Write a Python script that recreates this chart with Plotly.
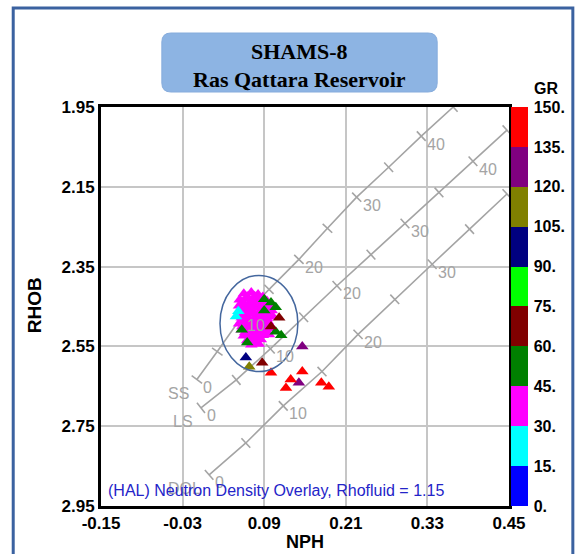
import plotly.graph_objects as go

# ---------------- data ----------------
# GR color classes (API)
GR_EDGES = [0, 15, 30, 45, 60, 75, 90, 105, 120, 135, 150]
GR_COLORS = ["#0000ff", "#00ffff", "#ff00ff", "#008000", "#800000",
             "#00ff00", "#000080", "#808000", "#800080", "#ff0000"]
GR_TICKTEXT = ["0.", "15.", "30.", "45.", "60.", "75.", "90.", "105.", "120.", "135.", "150."]

X_TICKS = [-0.15, -0.03, 0.09, 0.21, 0.33, 0.45]
X_TICKTEXT = ["-0.15", "-0.03", "0.09", "0.21", "0.33", "0.45"]
Y_TICKS = [1.95, 2.15, 2.35, 2.55, 2.75, 2.95]
Y_TICKTEXT = ["1.95", "2.15", "2.35", "2.55", "2.75", "2.95"]

# Lithology lines of the HAL neutron-density overlay (porosity in p.u.)
SS_PHI = [0, 5, 10, 15, 20, 25, 30, 35, 40, 45]
SS_NPH = [-0.009, 0.021, 0.056, 0.097, 0.141, 0.183, 0.226, 0.273, 0.321, 0.368]
SS_RHOB = [2.633, 2.563, 2.478, 2.407, 2.332, 2.254, 2.176, 2.101, 2.023, 1.950]

LS_PHI = [0, 5, 10, 15, 20, 25, 30, 35, 40, 45]
LS_NPH = [-0.003, 0.049, 0.099, 0.148, 0.197, 0.247, 0.297, 0.347, 0.397, 0.447]
LS_RHOB = [2.704, 2.634, 2.556, 2.477, 2.398, 2.320, 2.242, 2.164, 2.086, 2.008]

DOL_PHI = [0, 5, 10, 15, 20, 25, 30, 35, 40]
DOL_NPH = [0.009, 0.063, 0.118, 0.175, 0.228, 0.282, 0.337, 0.392, 0.447]
DOL_RHOB = [2.872, 2.792, 2.699, 2.613, 2.520, 2.432, 2.344, 2.256, 2.168]

SS_LABELED = [0, 10, 20, 30, 40]
LS_LABELED = [0, 10, 20, 30, 40]
DOL_LABELED = [0, 10, 20, 30]

# Log samples, grouped by GR class
MAG_NPH = [0.060, 0.071, 0.081,
           0.054, 0.065, 0.075, 0.085, 0.094,
           0.053, 0.062, 0.072, 0.082, 0.091, 0.099,
           0.054, 0.063, 0.074, 0.084, 0.093, 0.101,
           0.057, 0.066, 0.077, 0.085, 0.094, 0.103,
           0.053, 0.062, 0.071, 0.079, 0.088, 0.097,
           0.057, 0.066, 0.075, 0.084, 0.093, 0.100,
           0.060, 0.069, 0.079, 0.088, 0.097,
           0.065, 0.075, 0.085,
           0.071, 0.082,
           0.065, 0.076, 0.088,
           0.058, 0.068, 0.078, 0.088, 0.096,
           0.058, 0.068, 0.078, 0.088, 0.097,
           0.059, 0.069, 0.080, 0.089, 0.098,
           0.057, 0.067, 0.076, 0.085, 0.095,
           0.058, 0.067, 0.076, 0.085, 0.094,
           0.062, 0.072, 0.081, 0.091,
           0.070, 0.080]
MAG_RHOB = [2.418, 2.415, 2.420,
            2.433, 2.430, 2.434, 2.431, 2.436,
            2.448, 2.446, 2.449, 2.445, 2.447, 2.450,
            2.463, 2.461, 2.465, 2.462, 2.464, 2.460,
            2.478, 2.476, 2.479, 2.477, 2.480, 2.476,
            2.493, 2.495, 2.492, 2.494, 2.491, 2.493,
            2.508, 2.506, 2.509, 2.507, 2.510, 2.505,
            2.523, 2.521, 2.524, 2.522, 2.520,
            2.535, 2.537, 2.533,
            2.546, 2.544,
            2.425, 2.424, 2.426,
            2.440, 2.441, 2.439, 2.440, 2.442,
            2.455, 2.456, 2.454, 2.455, 2.457,
            2.470, 2.469, 2.471, 2.470, 2.468,
            2.485, 2.486, 2.484, 2.485, 2.487,
            2.500, 2.501, 2.499, 2.500, 2.502,
            2.515, 2.514, 2.516, 2.515,
            2.530, 2.531]
MAG_GR = [38] * len(MAG_NPH)

CYAN_NPH = [0.0485, 0.052]
CYAN_RHOB = [2.475, 2.462]
CYAN_GR = [22, 24]

GREEN_NPH = [0.090, 0.100, 0.107, 0.090, 0.057, 0.065, 0.107, 0.115]
GREEN_RHOB = [2.432, 2.440, 2.452, 2.460, 2.508, 2.540, 2.513, 2.522]
GREEN_GR = [52, 55, 50, 53, 48, 51, 56, 54]

MAROON_NPH = [0.112, 0.100, 0.087]
MAROON_RHOB = [2.478, 2.500, 2.591]
MAROON_GR = [68, 66, 70]

NAVY_NPH = [0.063]
NAVY_RHOB = [2.578]
NAVY_GR = [97]

OLIVE_NPH = [0.068]
OLIVE_RHOB = [2.601]
OLIVE_GR = [112]

PURPLE_NPH = [0.146, 0.141]
PURPLE_RHOB = [2.550, 2.641]
PURPLE_GR = [128, 126]

RED_NPH = [0.100, 0.129, 0.122, 0.146, 0.174, 0.185]
RED_RHOB = [2.616, 2.633, 2.654, 2.613, 2.641, 2.651]
RED_GR = [142, 144, 140, 146, 141, 143]

# ---------------- geometry of the page ----------------
W, H = 576, 554
PL, PR, PT, PB = 101, 510, 107, 506
XMIN, XMAX = -0.15, 0.45
YMIN, YMAX = 1.95, 2.95
SX = (PR - PL) / (XMAX - XMIN)   # px per NPH unit
SY = (PB - PT) / (YMAX - YMIN)   # px per g/cc


def paper_x(px):
    return (px - PL) / (PR - PL)


def paper_y(py):
    return (PB - py) / (PB - PT)


GRAY = "#a4a4a4"
SANS = "Liberation Sans, Arial, sans-serif"
SERIF = "Liberation Serif, Times New Roman, serif"

fig = go.Figure()

# lithology lines with perpendicular porosity ticks
annotations = []
for name, phi, nph, rhob, labeled in [
    ("SS", SS_PHI, SS_NPH, SS_RHOB, SS_LABELED),
    ("LS", LS_PHI, LS_NPH, LS_RHOB, LS_LABELED),
    ("DOL", DOL_PHI, DOL_NPH, DOL_RHOB, DOL_LABELED),
]:
    fig.add_trace(go.Scatter(x=nph, y=rhob, mode="lines",
                             line=dict(color=GRAY, width=1.6),
                             hoverinfo="skip", showlegend=False))
    tx, ty = [], []
    n = len(phi)
    for i in range(n):
        a = max(i - 1, 0)
        b = min(i + 1, n - 1)
        vx = (nph[b] - nph[a]) * SX
        vy = (rhob[b] - rhob[a]) * SY
        norm = (vx ** 2 + vy ** 2) ** 0.5
        ox, oy = -vy / norm * 6.5, vx / norm * 6.5
        tx += [nph[i] - ox / SX, nph[i] + ox / SX, None]
        ty += [rhob[i] - oy / SY, rhob[i] + oy / SY, None]
    fig.add_trace(go.Scatter(x=tx, y=ty, mode="lines",
                             line=dict(color=GRAY, width=1.6),
                             hoverinfo="skip", showlegend=False))
    for i, p in enumerate(phi):
        if p in labeled:
            annotations.append(dict(
                x=nph[i], y=rhob[i], xref="x", yref="y", text=str(p),
                showarrow=False, xanchor="left", yanchor="middle",
                xshift=4, yshift=-8, font=dict(family=SANS, size=16, color=GRAY)))
    annotations.append(dict(
        x=nph[0], y=rhob[0], xref="x", yref="y", text=name,
        showarrow=False, xanchor="right", yanchor="middle",
        xshift=-6, yshift=-14, font=dict(family=SANS, size=16, color=GRAY)))

# log samples coloured by GR class
all_nph = (MAG_NPH + CYAN_NPH + GREEN_NPH + MAROON_NPH + NAVY_NPH
           + OLIVE_NPH + PURPLE_NPH + RED_NPH)
all_rhob = (MAG_RHOB + CYAN_RHOB + GREEN_RHOB + MAROON_RHOB + NAVY_RHOB
            + OLIVE_RHOB + PURPLE_RHOB + RED_RHOB)
all_gr = (MAG_GR + CYAN_GR + GREEN_GR + MAROON_GR + NAVY_GR
          + OLIVE_GR + PURPLE_GR + RED_GR)

colorscale = []
for i, c in enumerate(GR_COLORS):
    colorscale.append([i / len(GR_COLORS), c])
    colorscale.append([(i + 1) / len(GR_COLORS), c])

fig.add_trace(go.Scatter(
    x=all_nph, y=all_rhob, mode="markers",
    marker=dict(symbol="triangle-up", size=11, color=all_gr,
                colorscale=colorscale, cmin=GR_EDGES[0], cmax=GR_EDGES[-1],
                line=dict(width=0),
                colorbar=dict(
                    x=paper_x(511), xanchor="left", xpad=0,
                    y=0.5, yanchor="middle", len=1.0, lenmode="fraction", ypad=0,
                    thickness=17, outlinewidth=0,
                    tickvals=GR_EDGES, ticktext=GR_TICKTEXT,
                    ticks="outside", ticklen=3, tickcolor="rgba(0,0,0,0)",
                    tickfont=dict(family=SANS, size=16, color="black", weight="bold"))),
    showlegend=False, hoverinfo="skip"))

# ellipse around the clean reservoir cluster
shapes = [dict(type="circle", xref="x", yref="y",
               x0=0.025, x1=0.1395, y0=2.372, y1=2.613,
               line=dict(color="#44679e", width=1.5))]

# outer frame of the page
shapes.append(dict(type="rect", xref="paper", yref="paper",
                   x0=paper_x(13), x1=paper_x(574), y0=paper_y(600), y1=paper_y(8),
                   line=dict(color="#3b62a0", width=3), layer="below"))

# rounded title box
bx0, bx1, by0, by1, r = 162, 438, 33, 92, 9
path = (f"M {paper_x(bx0 + r)},{paper_y(by0)} L {paper_x(bx1 - r)},{paper_y(by0)} "
        f"Q {paper_x(bx1)},{paper_y(by0)} {paper_x(bx1)},{paper_y(by0 + r)} "
        f"L {paper_x(bx1)},{paper_y(by1 - r)} "
        f"Q {paper_x(bx1)},{paper_y(by1)} {paper_x(bx1 - r)},{paper_y(by1)} "
        f"L {paper_x(bx0 + r)},{paper_y(by1)} "
        f"Q {paper_x(bx0)},{paper_y(by1)} {paper_x(bx0)},{paper_y(by1 - r)} "
        f"L {paper_x(bx0)},{paper_y(by0 + r)} "
        f"Q {paper_x(bx0)},{paper_y(by0)} {paper_x(bx0 + r)},{paper_y(by0)} Z")
shapes.append(dict(type="path", xref="paper", yref="paper", path=path,
                   fillcolor="#8db4e3", line=dict(color="#86acdc", width=1)))


def page_text(px, py, text, font, **kw):
    d = dict(x=paper_x(px), y=paper_y(py), xref="paper", yref="paper", text=text,
             showarrow=False, xanchor="center", yanchor="middle", font=font)
    d.update(kw)
    return d


annotations += [
    page_text(300, 51, "SHAMS-8",
              dict(family=SERIF, size=22, color="black", weight="bold")),
    page_text(300, 79, "Ras Qattara Reservoir",
              dict(family=SERIF, size=22, color="black", weight="bold")),
    page_text(106, 490, "(HAL) Neutron Density Overlay, Rhofluid = 1.15",
              dict(family=SANS, size=16, color="#2424c8"), xanchor="left"),
    page_text(305, 542, "NPH",
              dict(family=SANS, size=18, color="black", weight="bold")),
    page_text(34, 305, "RHOB",
              dict(family=SANS, size=19, color="black", weight="bold"), textangle=-90),
    page_text(547, 89, "GR",
              dict(family=SANS, size=16, color="black", weight="bold")),
]

axis_common = dict(showgrid=True, gridcolor="#c6c6c6", gridwidth=1.5,
                   showline=True, linecolor="black", linewidth=3, mirror=True,
                   zeroline=False, ticks="",
                   tickfont=dict(family=SANS, size=17, color="black", weight="bold"))

fig.update_layout(
    width=W, height=H,
    margin=dict(l=PL, r=W - PR, t=PT, b=H - PB),
    paper_bgcolor="white", plot_bgcolor="white",
    xaxis=dict(range=[XMIN, XMAX], tickvals=X_TICKS, ticktext=X_TICKTEXT, **axis_common),
    yaxis=dict(range=[YMAX, YMIN], tickvals=Y_TICKS, ticktext=Y_TICKTEXT, **axis_common),
    shapes=shapes,
    annotations=annotations,
)

fig.write_html("out.html")
